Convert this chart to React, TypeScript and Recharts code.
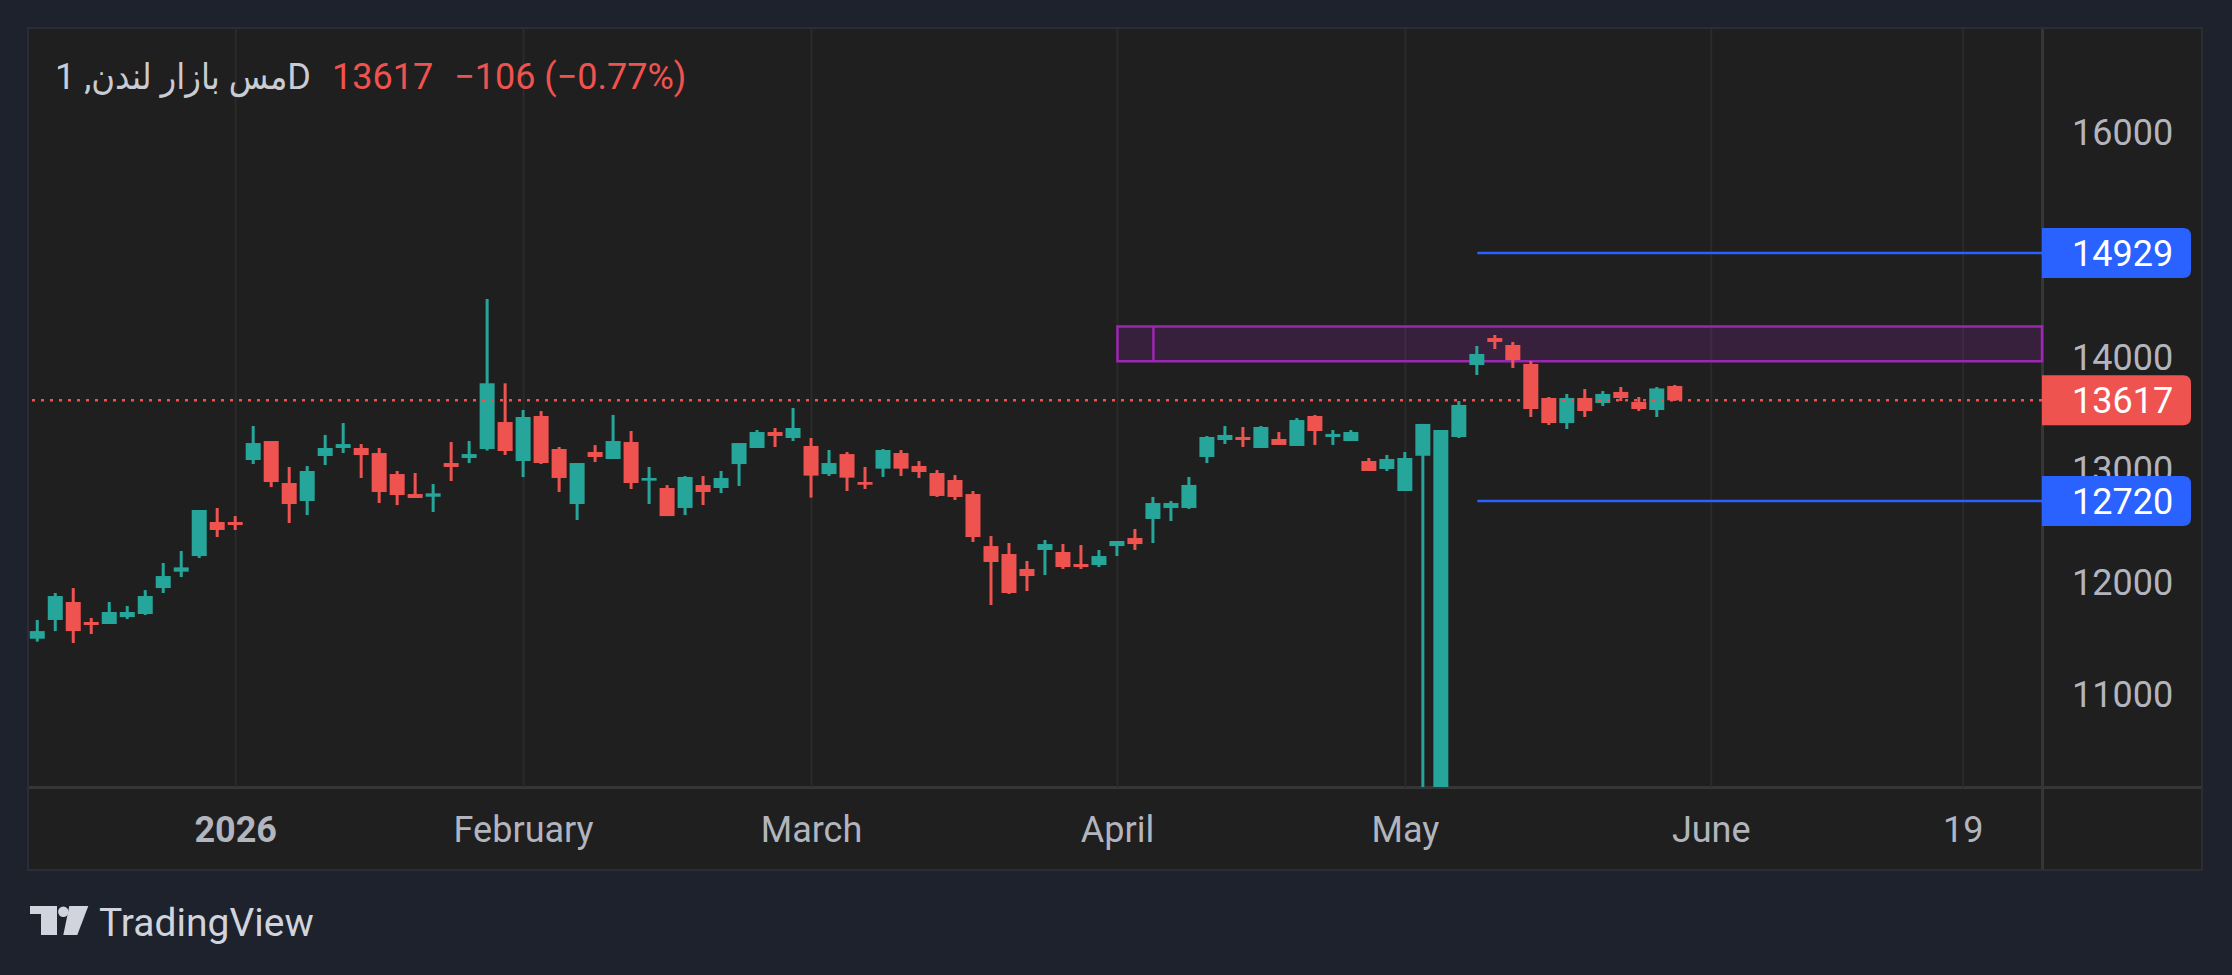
import React from "react";
import {
  ComposedChart,
  Bar,
  XAxis,
  YAxis,
  CartesianGrid,
  ReferenceLine,
  ReferenceArea,
} from "recharts";

// daily candles, index 0 = first bar on screen (mid December 2025)
const opens = [
  11495, 11662, 11822, 11644, 11626, 11688, 11715, 11946, 12092, 12231, 12534, 12534,
  13086, 13255, 12881, 12721, 13122, 13193, 13193, 13148, 12961, 12783, 12759, 13059,
  13104, 13184, 13424, 13077, 13478, 13184, 12694, 13157, 13095, 13246, 12902, 12837,
  12659, 12863, 12837, 13050, 13193, 13335, 13282, 13211, 12961, 13139, 12890, 13009,
  13148, 13033, 12970, 12908, 12783, 12320, 12249, 12116, 12285, 12267, 12160, 12151,
  12320, 12392, 12561, 12659, 12659, 13113, 13264, 13291, 13193, 13273, 13211, 13478,
  13291, 13255, 13077, 13006, 12810, 13124, 9800, 13291, 13932, 14172, 14110, 13941,
  13638, 13415, 13638, 13594, 13692, 13603, 13531, 13745,
];
const highs = [
  11662, 11902, 11946, 11680, 11822, 11786, 11928, 12169, 12276, 12641, 12659, 12587,
  13389, 13255, 13024, 13032, 13309, 13415, 13228, 13193, 12988, 12970, 12872, 13246,
  13255, 14519, 13769, 13531, 13522, 13202, 13059, 13219, 13487, 13344, 13024, 12863,
  12943, 12943, 12988, 13237, 13353, 13371, 13549, 13282, 13175, 13157, 13024, 13184,
  13175, 13077, 12997, 12952, 12810, 12409, 12347, 12187, 12374, 12338, 12329, 12285,
  12365, 12472, 12757, 12721, 12935, 13300, 13389, 13380, 13389, 13335, 13460, 13487,
  13353, 13353, 13104, 13131, 13157, 13407, 13353, 13611, 14101, 14199, 14137, 13967,
  13647, 13674, 13718, 13700, 13736, 13647, 13736, 13754,
];
const lows = [
  11469, 11563, 11457, 11537, 11626, 11670, 11706, 11902, 12044, 12213, 12400, 12463,
  13050, 12845, 12525, 12596, 13041, 13148, 12926, 12703, 12685, 12748, 12623, 12899,
  13059, 13170, 13131, 12934, 13050, 12801, 12552, 13068, 13095, 12828, 12694, 12587,
  12596, 12685, 12792, 12855, 13193, 13202, 13255, 12751, 12944, 12810, 12828, 12935,
  12944, 12926, 12757, 12730, 12356, 11795, 11893, 11920, 12062, 12116, 12116, 12133,
  12231, 12285, 12347, 12543, 12650, 13059, 13229, 13202, 13193, 13220, 13211, 13220,
  13220, 13255, 12988, 12988, 12810, 9800, 9800, 13282, 13843, 14074, 13905, 13469,
  13398, 13362, 13469, 13567, 13611, 13522, 13469, 13612,
];
const closes = [
  11563, 11875, 11563, 11617, 11733, 11733, 11875, 12053, 12130, 12641, 12463, 12507,
  13237, 12890, 12694, 12988, 13193, 13228, 13130, 12801, 12774, 12748, 12789, 13024,
  13139, 13769, 13166, 13469, 13059, 12926, 13059, 13113, 13255, 12881, 12926, 12587,
  12935, 12801, 12926, 13237, 13335, 13300, 13371, 12947, 13059, 12929, 12866, 13175,
  13009, 12979, 12766, 12757, 12400, 12178, 11902, 12053, 12338, 12133, 12133, 12231,
  12365, 12338, 12703, 12703, 12864, 13291, 13309, 13264, 13380, 13220, 13442, 13344,
  13318, 13335, 12988, 13095, 13104, 13407, 13353, 13576, 14030, 14137, 13976, 13540,
  13415, 13638, 13522, 13674, 13638, 13540, 13723, 13617,
];

// time axis labels (bar index -> text)
const timeTicks = [11, 27, 43, 60, 76, 93, 107];
const timeLabels = ["2026", "February", "March", "April", "May", "June", "19"];

const priceTicks = [11000, 12000, 13000, 14000, 15000, 16000];

// drawn levels
const levelStart = 80;
const levels = [14929, 12720];
const zoneStart = 60;
const zoneMark = 62;
const zoneLow = 13966;
const zoneHigh = 14275;

const SYMBOL = "مس بازار لندن, 1D";

const X_MIN = -0.487;
const X_MAX = 111.38;
const Y_MIN = 10175;
const Y_MAX = 16923;

const TEAL = "#26a69a";
const RED = "#ef5350";
const BLUE = "#2962ff";
const PURPLE = "#9c27b0";
const AXIS_TEXT = "#b2b5be";
const FONT = "Roboto, sans-serif";

const candles = opens.map((o, i) => ({
  i,
  open: o,
  high: highs[i],
  low: lows[i],
  close: closes[i],
}));

const lastClose = closes[closes.length - 1];
const prevClose = closes[closes.length - 2];
const change = lastClose - prevClose;
const changePct = ((Math.abs(change) / prevClose) * 100).toFixed(2);
const sign = change < 0 ? "\u2212" : "+";

const Candle = (props: any) => {
  const { x, y, width, height, payload } = props;
  if (!payload || !height) return null;
  const { open, close, high, low } = payload;
  const k = height / (high - low);
  const py = (v: number) => y + (high - v) * k;
  const cx = x + width / 2;
  const color = close >= open ? TEAL : RED;
  const top = py(Math.max(open, close));
  const bottom = py(Math.min(open, close));
  return (
    <g>
      <rect x={cx - 1.5} y={y} width={3} height={height} fill={color} />
      <rect x={x} y={top} width={width} height={Math.max(bottom - top, 2.5)} fill={color} />
    </g>
  );
};

const TimeTick = (props: any) => {
  const { x, y, payload } = props;
  const idx = timeTicks.indexOf(payload.value);
  const text = timeLabels[idx];
  return (
    <text
      x={x}
      y={y + 42}
      dy="0.35em"
      textAnchor="middle"
      fill={AXIS_TEXT}
      fontSize={36}
      fontFamily={FONT}
      fontWeight={idx === 0 ? 700 : 400}
    >
      {text}
    </text>
  );
};

// price scale text, drawn as reference-line labels so the badges can cover it
const AxisText = ({ viewBox, value }: any) => {
  if (!viewBox) return null;
  return (
    <text
      x={viewBox.x + viewBox.width + 30}
      y={viewBox.y}
      dy="0.35em"
      fill={AXIS_TEXT}
      fontSize={36}
      fontFamily={FONT}
    >
      {value}
    </text>
  );
};

const PriceBadge = ({ viewBox, value, color }: any) => {
  if (!viewBox) return null;
  const left = viewBox.x + viewBox.width;
  const cy = viewBox.y;
  const w = 149;
  const h = 50;
  const r = 8;
  const t = cy - h / 2;
  const b = cy + h / 2;
  const d = `M${left},${t} H${left + w - r} Q${left + w},${t} ${left + w},${t + r} V${b - r} Q${left + w},${b} ${left + w - r},${b} H${left} Z`;
  return (
    <g>
      <path d={d} fill={color} />
      <text x={left + 30} y={cy} dy="0.35em" fill="#ffffff" fontSize={36} fontFamily={FONT}>
        {value}
      </text>
    </g>
  );
};

export default function App() {
  return (
    <div
      style={{
        position: "fixed",
        left: 0,
        top: 0,
        width: 2232,
        height: 975,
        background: "#1e222d",
        fontFamily: FONT,
        overflow: "hidden",
      }}
    >
      {/* panel */}
      <div
        style={{
          position: "absolute",
          left: 29,
          top: 29,
          width: 2172,
          height: 840,
          background: "#1f1f1f",
          boxShadow: "0 0 0 2px #2a2d35",
        }}
      />
      <div style={{ position: "absolute", left: 2041, top: 29, width: 3, height: 840, background: "#363636" }} />
      <div style={{ position: "absolute", left: 29, top: 786, width: 2172, height: 3, background: "#363636" }} />

      <div style={{ position: "absolute", left: 29, top: 29 }}>
        <ComposedChart
          width={2173}
          height={840}
          data={candles}
          margin={{ top: 0, right: 0, bottom: 0, left: 0 }}
        >
          <CartesianGrid stroke="#2a2a2a" strokeWidth={2} syncWithTicks />
          <XAxis
            dataKey="i"
            type="number"
            domain={[X_MIN, X_MAX]}
            allowDataOverflow
            ticks={timeTicks}
            interval={0}
            height={82}
            axisLine={false}
            tickLine={false}
            tickSize={0}
            tickMargin={0}
            tick={<TimeTick />}
          />
          <YAxis
            orientation="right"
            type="number"
            domain={[Y_MIN, Y_MAX]}
            allowDataOverflow
            ticks={priceTicks}
            interval={0}
            width={160}
            axisLine={false}
            tickLine={false}
            tick={false}
          />
          <ReferenceArea
            x1={zoneStart}
            x2={X_MAX}
            y1={zoneLow}
            y2={zoneHigh}
            fill={PURPLE}
            fillOpacity={0.2}
            stroke={PURPLE}
            strokeWidth={2.5}
            ifOverflow="visible"
          />
          <ReferenceLine
            segment={[
              { x: zoneMark, y: zoneLow },
              { x: zoneMark, y: zoneHigh },
            ]}
            stroke={PURPLE}
            strokeWidth={2.5}
            ifOverflow="visible"
          />
          <Bar
            dataKey={(d: any) => [d.low, d.high]}
            barSize={15}
            shape={(p: any) => <Candle {...p} />}
            isAnimationActive={false}
          />
          {priceTicks.map((v) => (
            <ReferenceLine
              key={`tick-${v}`}
              y={v}
              stroke="none"
              ifOverflow="visible"
              label={(p: any) => <AxisText viewBox={p.viewBox} value={v} />}
            />
          ))}
          <ReferenceLine
            y={lastClose}
            stroke={RED}
            strokeWidth={2.5}
            strokeDasharray="3 6"
            ifOverflow="visible"
            label={(p: any) => <PriceBadge viewBox={p.viewBox} value={lastClose} color={RED} />}
          />
          {levels.map((lv) => (
            <ReferenceLine
              key={lv}
              segment={[
                { x: levelStart, y: lv },
                { x: X_MAX, y: lv },
              ]}
              stroke={BLUE}
              strokeWidth={2.5}
              ifOverflow="visible"
              label={(p: any) => <PriceBadge viewBox={p.viewBox} value={lv} color={BLUE} />}
            />
          ))}
        </ComposedChart>
      </div>

      {/* legend line */}
      <div
        style={{
          position: "absolute",
          left: 55,
          top: 56,
          fontSize: 36,
          lineHeight: "42px",
          whiteSpace: "nowrap",
        }}
      >
        <span style={{ color: "#c9ccd4", fontFamily: "Roboto, 'DejaVu Sans Condensed', sans-serif" }}>
          {SYMBOL}
        </span>
        <span style={{ color: RED, marginLeft: 21 }}>{lastClose}</span>
        <span style={{ color: RED, marginLeft: 21 }}>
          {`${sign}${Math.abs(change)} (${sign}${changePct}%)`}
        </span>
      </div>

      {/* logo */}
      <svg style={{ position: "absolute", left: 30, top: 905 }} width={62} height={32}>
        <path d="M0,1 H27 V30 H11 V9 H0 Z" fill="#d1d4dc" />
        <circle cx={33.3} cy={6.7} r={5.2} fill="#d1d4dc" />
        <path d="M39.3,1 H58.3 L47.3,30 H33.3 Z" fill="#d1d4dc" />
      </svg>
      <div
        style={{
          position: "absolute",
          left: 99,
          top: 900,
          fontSize: 39,
          lineHeight: "normal",
          color: "#d1d4dc",
        }}
      >
        TradingView
      </div>
    </div>
  );
}
